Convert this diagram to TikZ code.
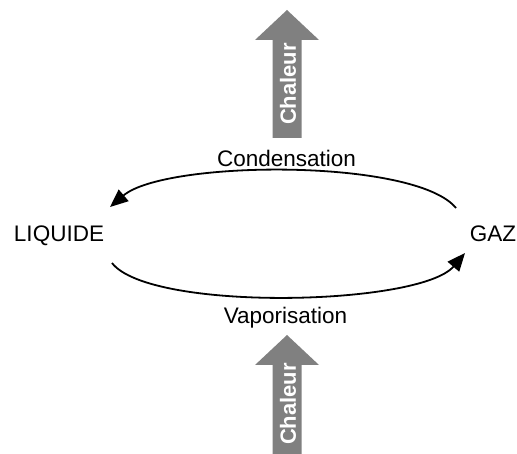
\documentclass[tikz,border=0pt]{standalone}
\usepackage{fontspec}
\setmainfont{Liberation Sans}
\usetikzlibrary{arrows.meta}
\definecolor{heatgray}{HTML}{808080}
\tikzset{
  lbl/.style={font=\fontsize{22.5}{27}\selectfont, anchor=base, inner sep=0pt},
  heat/.style={fill=heatgray, draw=none},
  heattext/.style={font=\fontsize{22}{26}\bfseries, text=white, rotate=90, inner sep=0pt},
  flow/.style={line width=1.8pt, -{Triangle[length=18pt,width=15pt]}}
}
\begin{document}
\begin{tikzpicture}[x=1pt,y=-1pt]
\useasboundingbox (0,0) rectangle (517,454);
% labels
\node[lbl] (liq) at (59,242) {LIQUIDE};
\node[lbl] (gaz) at (493,242) {GAZ};
\node[lbl] (cond) at (286.5,166.7) {Condensation};
\node[lbl] (vap) at (285.5,323.3) {Vaporisation};
% heat arrows
\fill[heat] (272.5,138) -- (272.5,40) -- (255,40) -- (287,10) -- (319,40) -- (301.5,40) -- (301.5,138) -- cycle;
\node[heattext] (heattop) at (288,84) {\fontsize{22}{26}\selectfont\bfseries Chaleur};
\fill[heat] (272.5,460) -- (272.5,365) -- (255,365) -- (287,335) -- (319,365) -- (301.5,365) -- (301.5,460) -- cycle;
\node[heattext] (heatbot) at (288,404) {\fontsize{22}{26}\selectfont\bfseries Chaleur};
% connectors
\coordinate (gazout) at (456,208);
\coordinate (liqin) at (110,207);
\coordinate (liqout) at (112,263);
\coordinate (gazin) at (465,253);
\draw[flow] (gazout) .. controls (415,158) and (165,160) .. (liqin);
\draw[flow] (liqout) .. controls (150,312) and (420,306) .. (gazin);
\end{tikzpicture}
\end{document}
